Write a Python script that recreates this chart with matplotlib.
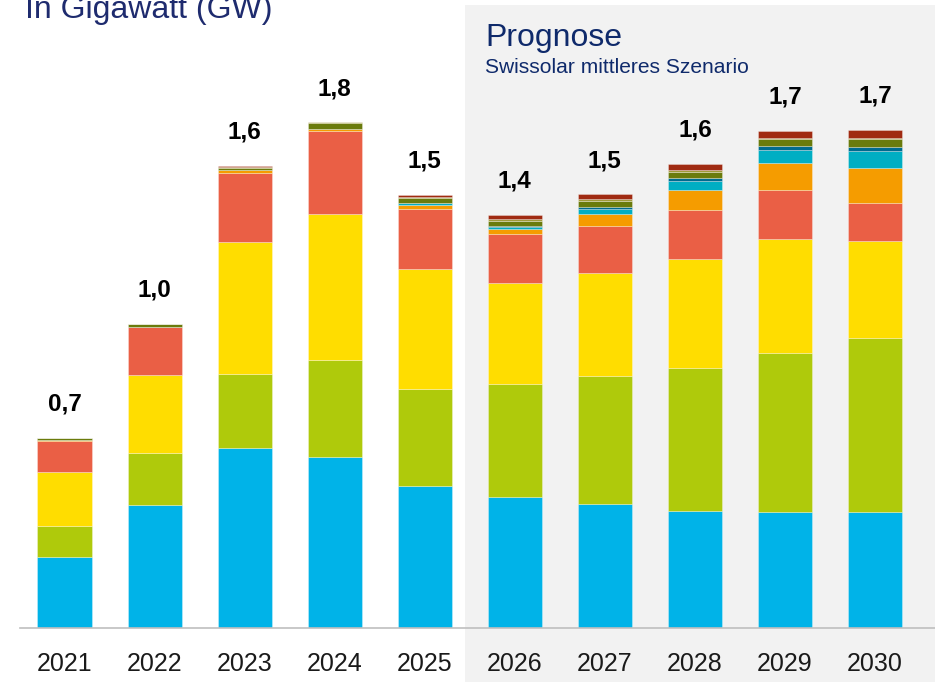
import matplotlib
matplotlib.use("Agg")
import matplotlib.pyplot as plt
from matplotlib.patches import Rectangle
import numpy as np

plt.rcParams['font.family'] = ['Liberation Sans', 'DejaVu Sans']

years = ["2021", "2022", "2023", "2024", "2025", "2026", "2027", "2028", "2029", "2030"]
total_labels = ["0,7", "1,0", "1,6", "1,8", "1,5", "1,4", "1,5", "1,6", "1,7", "1,7"]

# GW per segment, bottom to top
seg_blue    = [0.246, 0.426, 0.623, 0.592, 0.491, 0.453, 0.429, 0.405, 0.401, 0.401]
seg_green   = [0.107, 0.180, 0.256, 0.336, 0.336, 0.391, 0.443, 0.495, 0.550, 0.602]
seg_yellow  = [0.187, 0.270, 0.457, 0.505, 0.415, 0.349, 0.356, 0.377, 0.394, 0.336]
seg_red     = [0.108, 0.166, 0.239, 0.287, 0.208, 0.169, 0.163, 0.170, 0.170, 0.131]
seg_orange  = [0.004, 0.000, 0.009, 0.006, 0.013, 0.020, 0.042, 0.068, 0.094, 0.120]
seg_cyan    = [0.000, 0.000, 0.000, 0.000, 0.006, 0.007, 0.018, 0.031, 0.045, 0.059]
seg_teal    = [0.000, 0.000, 0.000, 0.000, 0.000, 0.003, 0.006, 0.010, 0.014, 0.016]
seg_olive   = [0.007, 0.010, 0.008, 0.020, 0.018, 0.018, 0.022, 0.021, 0.024, 0.027]
seg_tan     = [0.000, 0.000, 0.003, 0.004, 0.0045, 0.006, 0.006, 0.007, 0.004, 0.004]
seg_darkred = [0.000, 0.000, 0.004, 0.000, 0.007, 0.014, 0.015, 0.021, 0.023, 0.027]

series = [seg_blue, seg_green, seg_yellow, seg_red, seg_orange, seg_cyan,
          seg_teal, seg_olive, seg_tan, seg_darkred]
colors = ["#00B3E8", "#AFCA0B", "#FFDD00", "#EA5F45", "#F59C00", "#00AEC3",
          "#006B8F", "#6A7B0C", "#A09A3A", "#A02B12"]

W, H = 935, 682
fig = plt.figure(figsize=(W / 100, H / 100), dpi=100)

# Forecast shaded area (figure level, behind the axes)
fig.patches.append(Rectangle((465 / W, 0), 1 - 465 / W, (H - 5) / H,
                             transform=fig.transFigure, facecolor="#F2F2F2",
                             edgecolor="none", zorder=-10))

base_px = 628
px_per_gw = 289.0
ax = fig.add_axes([0, 1 - base_px / H, 1, base_px / H])
ax.set_facecolor("none")
ax.set_zorder(1)
x0_px, step_px = 64.5, 90.06
ax.set_xlim((0 - x0_px) / step_px, (W - x0_px) / step_px)
ax.set_ylim(0, base_px / px_per_gw)

x = np.arange(len(years))
bottom = np.zeros(len(years))
for vals, c in zip(series, colors):
    v = np.array(vals)
    ax.bar(x, v, width=0.6, bottom=bottom, color=c,
           edgecolor=(1, 1, 1, 0.35), linewidth=0.6, zorder=2)
    bottom += v

for xi, tot, lab in zip(x, bottom, total_labels):
    ax.annotate(lab, (xi, tot), xytext=(0, 16), textcoords="offset points",
                ha="center", va="bottom", fontsize=17.5, fontweight="bold",
                color="black")

for s in ax.spines.values():
    s.set_visible(False)
ax.set_yticks([])
ax.set_xticks(x)
ax.set_xticklabels(years, fontsize=18, color="#1A1A1A")
ax.tick_params(axis="x", length=0, pad=17)
ax.plot([(20 - x0_px) / step_px, (W - x0_px) / step_px], [0, 0],
        color="#BFBFBF", linewidth=1.2, zorder=3, clip_on=False)

fig.text(25 / W, 1 - 18 / H, "In Gigawatt (GW)", fontsize=23, color="#1E2B6E",
         ha="left", va="baseline")
fig.text(485 / W, 1 - 46 / H, "Prognose", fontsize=23, color="#0F2A6B",
         ha="left", va="baseline")
fig.text(485 / W, 1 - 73 / H, "Swissolar mittleres Szenario", fontsize=15.1,
         color="#0F2A6B", ha="left", va="baseline")

fig.savefig("out.png", dpi=100)
